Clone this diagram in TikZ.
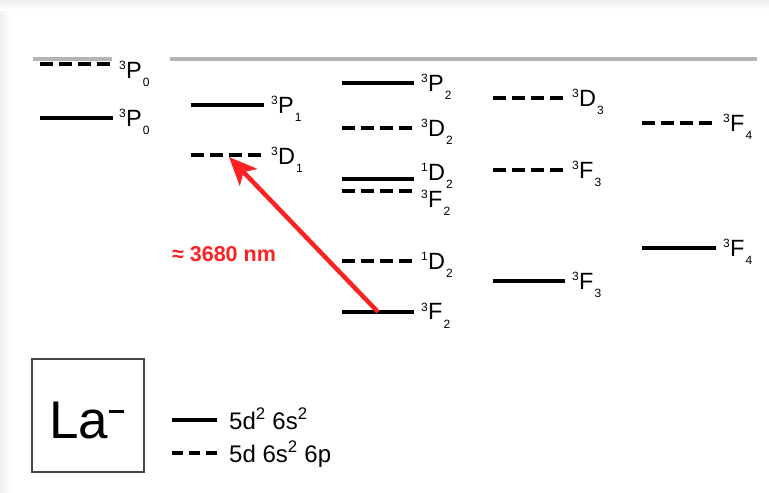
\documentclass[tikz,border=0pt]{standalone}
\usepackage{fontspec}
\setmainfont{Liberation Sans}
\usetikzlibrary{arrows.meta}
\definecolor{arrred}{RGB}{250,35,35}
\definecolor{topgray}{RGB}{180,180,180}
\definecolor{boxgray}{RGB}{70,70,70}
\newcommand{\trm}[3]{{\fontsize{23.5}{23.5}\selectfont\raisebox{8.3pt}{\fontsize{12}{12}\selectfont #1}\kern0.3pt#2\kern1pt\raisebox{-8.5pt}{\fontsize{12}{12}\selectfont #3}}}
\tikzset{
  lvlsolid/.style={line width=4pt, black},
  lvldash/.style={line width=4pt, black, dash pattern=on 12.5pt off 6.6pt},
  legdash/.style={line width=4pt, black, dash pattern=on 11pt off 6pt},
  lbl/.style={anchor=base west, inner sep=0pt},
  legtxt/.style={anchor=base west, inner sep=0pt, font=\fontsize{24}{24}\selectfont},
  grayline/.style={line width=4pt, topgray},
  arr/.style={line width=4.5pt, arrred, -{Stealth[length=28pt,width=24pt,inset=7pt]}},
}
\begin{document}
\begin{tikzpicture}[x=1pt,y=-1pt]
\useasboundingbox (0,0) rectangle (769,493);
\fill[white] (0,0) rectangle (769,493);
\shade[left color=black!6, right color=white] (0,0) rectangle (10,493);
\shade[top color=black!6, bottom color=white] (0,0) rectangle (769,10);
% top gray line
\draw[grayline] (33,59) -- (112,59);
\draw[grayline] (170,59) -- (757,59);
% column 1
\draw[lvldash] (40,64) -- (110,64) coordinate (c1a);
\node[lbl] (l1a) at ([xshift=9pt,yshift=-14pt]c1a) {\trm{3}{P}{0}};
\draw[lvlsolid] (40,118) -- (113,118) coordinate (c1b);
\node[lbl] (l1b) at ([xshift=6pt,yshift=-8pt]c1b) {\trm{3}{P}{0}};
% column 2
\draw[lvlsolid] (191,105) -- (264,105) coordinate (c2a);
\node[lbl] (l2a) at ([xshift=7pt,yshift=-8pt]c2a) {\trm{3}{P}{1}};
\draw[lvldash] (191,155) -- (264,155) coordinate (c2b);
\node[lbl] (l2b) at ([xshift=7pt,yshift=-9pt]c2b) {\trm{3}{D}{1}};
\coordinate (d1tip) at (229,157);
% column 3
\draw[lvlsolid] (342,83) -- (414,83) coordinate (c3a);
\node[lbl] (l3a) at ([xshift=7pt,yshift=-8pt]c3a) {\trm{3}{P}{2}};
\draw[lvldash] (342,128) -- (414,128) coordinate (c3b);
\node[lbl] (l3b) at ([xshift=7pt,yshift=-8pt]c3b) {\trm{3}{D}{2}};
\draw[lvlsolid] (342,179) -- (414,179) coordinate (c3c);
\node[lbl] (l3c) at ([xshift=7pt,yshift=-1pt]c3c) {\trm{1}{D}{2}};
\draw[lvldash] (342,191) -- (414,191) coordinate (c3d);
\node[lbl] (l3d) at ([xshift=7pt,yshift=-16pt]c3d) {\trm{3}{F}{2}};
\draw[lvldash] (342,261) -- (414,261) coordinate (c3e);
\node[lbl] (l3e) at ([xshift=7pt,yshift=-8pt]c3e) {\trm{1}{D}{2}};
\draw[lvlsolid] (342,312) -- (414,312) coordinate (c3f);
\node[lbl] (l3f) at ([xshift=7pt,yshift=-7.5pt]c3f) {\trm{3}{F}{2}};
\coordinate (f2start) at (378,312);
% column 4
\draw[lvldash] (493,98) -- (565,98) coordinate (c4a);
\node[lbl] (l4a) at ([xshift=7pt,yshift=-8pt]c4a) {\trm{3}{D}{3}};
\draw[lvldash] (493,170) -- (565,170) coordinate (c4b);
\node[lbl] (l4b) at ([xshift=7pt,yshift=-8pt]c4b) {\trm{3}{F}{3}};
\draw[lvlsolid] (493,281) -- (565,281) coordinate (c4c);
\node[lbl] (l4c) at ([xshift=7pt,yshift=-8pt]c4c) {\trm{3}{F}{3}};
% column 5
\draw[lvldash] (642,123) -- (716,123) coordinate (c5a);
\node[lbl] (l5a) at ([xshift=7pt,yshift=-8pt]c5a) {\trm{3}{F}{4}};
\draw[lvlsolid] (642,248) -- (716,248) coordinate (c5b);
\node[lbl] (l5b) at ([xshift=7pt,yshift=-8pt]c5b) {\trm{3}{F}{4}};
% transition arrow
\draw[arr] (f2start) -- (d1tip);
\node[text=arrred, font=\bfseries\fontsize{21.5}{21.5}\selectfont, inner sep=0pt] (wl) at (224,254) {≈ 3680 nm};
% La- box
\node[draw=boxgray, line width=1.5pt, minimum width=112pt, minimum height=113pt, inner sep=0pt] (box) at (88,415.5) {};
\node[anchor=base west, inner sep=0pt, font=\fontsize{53}{53}\selectfont] (la) at (49,438) {La\kern1pt\raisebox{25.5pt}{\rule{15pt}{3pt}}};
% legend
\draw[lvlsolid] (172,420) -- (217,420) coordinate (lg1);
\node[legtxt] (lt1) at (229,429) {5d\textsuperscript{2} 6s\textsuperscript{2}};
\draw[legdash] (172,453) -- (217,453) coordinate (lg2);
\node[legtxt] (lt2) at (229,462) {5d 6s\textsuperscript{2} 6p};
\end{tikzpicture}
\end{document}
